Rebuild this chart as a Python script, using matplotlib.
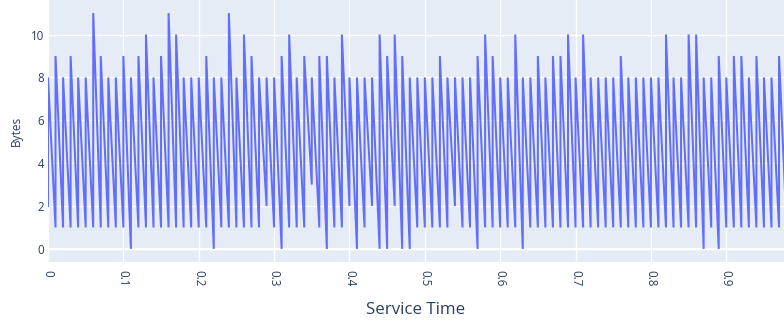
import matplotlib
matplotlib.use("Agg")
import matplotlib.pyplot as plt
import numpy as np

# value at the top of each tooth (one per 0.01 of service time)
peaks = [8, 9, 8, 9, 8, 8, 11, 9, 8, 8,
         9, 8, 9, 10, 8, 9, 11, 10, 8, 8,
         8, 9, 8, 8, 11, 8, 10, 9, 8, 8,
         8, 9, 10, 8, 9, 8, 9, 9, 8, 10,
         8, 8, 8, 8, 10, 9, 10, 9, 8, 8,
         8, 8, 9, 8, 8, 8, 8, 9, 10, 9,
         8, 8, 10, 8, 8, 9, 8, 9, 9, 10,
         8, 10, 8, 8, 8, 8, 9, 8, 8, 8,
         8, 8, 10, 8, 8, 10, 10, 8, 8, 9,
         8, 9, 9, 8, 9, 8, 8, 9]
# value at the bottom of each tooth, reached at the next step
troughs = [1, 1, 1, 1, 1, 1, 1, 1, 1, 1,
           0, 1, 1, 1, 1, 1, 1, 1, 1, 1,
           1, 0, 1, 1, 1, 1, 1, 1, 2, 1,
           0, 1, 1, 1, 3, 1, 0, 1, 1, 2,
           0, 1, 2, 0, 0, 2, 0, 0, 1, 1,
           1, 1, 1, 2, 1, 1, 0, 1, 1, 1,
           1, 1, 0, 1, 1, 1, 1, 1, 1, 1,
           1, 1, 1, 1, 1, 1, 1, 1, 1, 1,
           1, 1, 1, 1, 1, 1, 0, 1, 0, 1,
           1, 1, 1, 1, 1, 1, 1, 1]
start_value = 2
step = 0.01

x = [0.0]
y = [start_value]
for i in range(len(peaks)):
    x.append(i * step)
    y.append(peaks[i])
    x.append((i + 1) * step)
    y.append(troughs[i])

plt.rcParams['font.family'] = ['Open Sans', 'DejaVu Sans']
text_color = '#2a3f5f'

fig = plt.figure(figsize=(7.84, 3.23), dpi=100)
ax = fig.add_axes([48 / 784, 1 - 262 / 323, 736 / 784, 262 / 323])
ax.set_facecolor('#e5ecf6')

ax.plot(x, y, color='#636efa', linewidth=1.45, solid_joinstyle='miter')

ax.set_xlim(0, 0.9766)
ax.set_ylim(-0.61, 11.61)
ax.set_yticks([0, 2, 4, 6, 8, 10])
ax.set_xticks(np.arange(0, 1.0, 0.1))
ax.set_xticklabels(['0', '0.1', '0.2', '0.3', '0.4', '0.5', '0.6', '0.7', '0.8', '0.9'],
                   rotation=-90)
ax.grid(True, color='white', linewidth=1)
ax.axhline(0, color='white', linewidth=1.6, zorder=1)
ax.set_axisbelow(True)
for s in ax.spines.values():
    s.set_visible(False)
ax.tick_params(length=0, labelsize=8.3, labelcolor=text_color)
ax.tick_params(axis='y', pad=3)
ax.tick_params(axis='x', pad=6)

fig.text(416 / 784, 1 - 310 / 323, 'Service Time', ha='center', va='center',
         fontsize=12.2, color=text_color)
fig.text(16 / 784, 1 - 131 / 323, 'Bytes', ha='center', va='center',
         rotation=90, fontsize=8.6, color=text_color)

fig.savefig('out.png', dpi=100)
